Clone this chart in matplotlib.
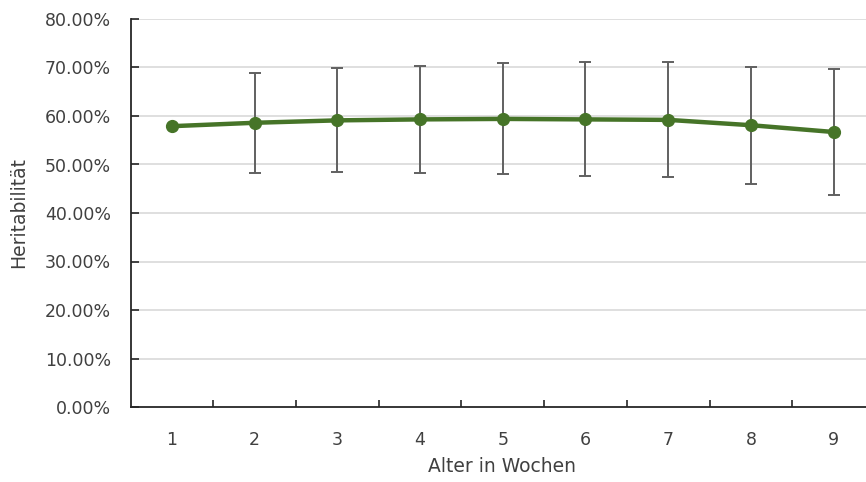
import matplotlib
matplotlib.use("Agg")
import matplotlib.pyplot as plt
import numpy as np
from matplotlib.ticker import FuncFormatter, FixedLocator

weeks = [1, 2, 3, 4, 5, 6, 7, 8, 9]
heritability = [57.9, 58.6, 59.1, 59.3, 59.4, 59.3, 59.2, 58.1, 56.7]
upper_bound = [57.9, 68.9, 69.8, 70.4, 70.9, 71.1, 71.1, 70.2, 69.7]
lower_bound = [57.9, 48.2, 48.4, 48.2, 48.0, 47.6, 47.5, 46.0, 43.7]
y_ticks = [0, 10, 20, 30, 40, 50, 60, 70, 80]

fig = plt.figure(figsize=(8.66, 4.82), dpi=100)
ax = fig.add_axes([130.5 / 866, 75 / 482, 744.5 / 866, 388 / 482])

x = np.arange(len(weeks))
h = np.array(heritability)
yerr = np.array([h - np.array(lower_bound), np.array(upper_bound) - h])

for yt in y_ticks[1:]:
    ax.axhline(yt, color="#D9D9D9", lw=1.2, zorder=0)

mask = yerr.sum(axis=0) > 0
ax.errorbar(x[mask], h[mask], yerr=yerr[:, mask], fmt="none", ecolor="#606060",
            elinewidth=1.4, capsize=4.5, capthick=1.4, zorder=2)
ax.plot(x, h, color="#467428", lw=3.2, marker="o", markersize=8.5, zorder=3)

ax.set_xlim(-0.5, len(weeks) - 0.5)
ax.set_ylim(0, 80)
ax.set_yticks(y_ticks)
ax.yaxis.set_major_formatter(FuncFormatter(lambda v, p: f"{v:.2f}%"))
ax.xaxis.set_major_locator(FixedLocator(np.arange(0.5, len(weeks) - 0.5, 1.0)))
ax.xaxis.set_minor_locator(FixedLocator(x))
ax.xaxis.set_major_formatter(FuncFormatter(lambda v, p: ""))
ax.xaxis.set_minor_formatter(FuncFormatter(lambda v, p: str(weeks[int(round(v))])))

for s in ["top", "right"]:
    ax.spines[s].set_visible(False)
for s in ["left", "bottom"]:
    ax.spines[s].set_color("#262626")
    ax.spines[s].set_linewidth(1.3)

ax.tick_params(axis="y", direction="in", length=6, width=1.2, color="#262626",
               pad=14, labelsize=12.5, labelcolor="#404040")
ax.tick_params(axis="x", which="major", direction="in", length=5, width=1.2, color="#262626")
ax.tick_params(axis="x", which="minor", length=0, pad=17, labelsize=12.5, labelcolor="#404040")

ax.set_ylabel("Heritabilität", fontsize=13.5, color="#404040")
ax.yaxis.set_label_coords(-0.137, 0.5)
fig.text(502 / 866, 1 - 467 / 482, "Alter in Wochen", ha="center", va="center",
         fontsize=13.5, color="#404040")

fig.savefig("out.png", dpi=100)
